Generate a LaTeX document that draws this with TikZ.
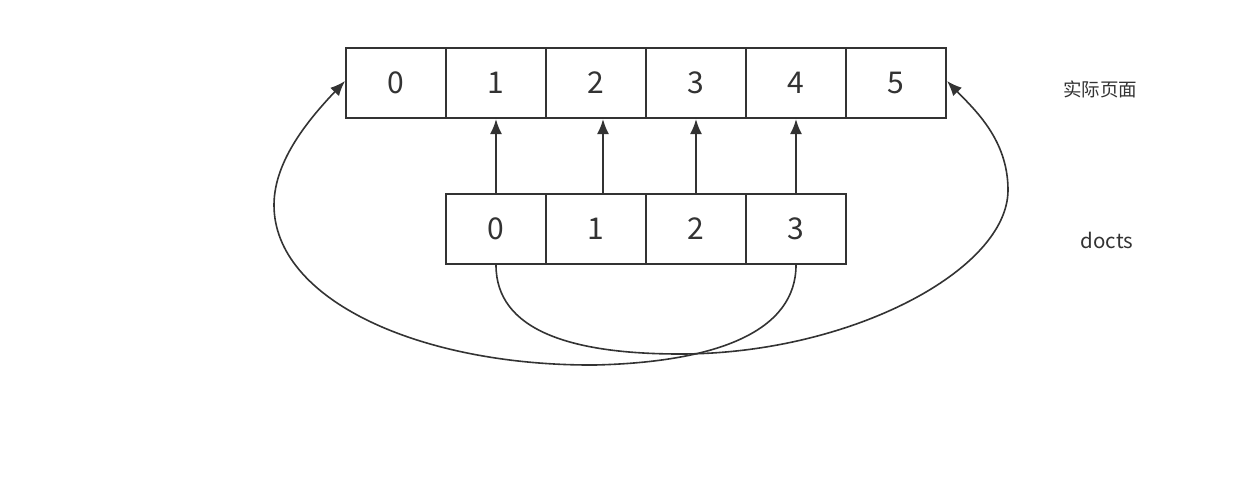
\documentclass[tikz,border=0pt]{standalone}
\usepackage{fontspec}
\setmainfont{Noto Sans CJK SC}
\usetikzlibrary{arrows.meta}
\definecolor{ink}{HTML}{333333}
\tikzset{
  cell/.style={draw=ink, line width=2pt, minimum width=100pt, minimum height=70pt, inner sep=0pt, text=ink, font=\fontsize{30}{34}\selectfont},
  lbl/.style={text=ink, inner sep=0pt, font=\fontsize{18.5}{22}\selectfont},
  lbltwo/.style={text=ink, inner sep=0pt, font=\fontsize{20.5}{24}\selectfont},
  conn/.style={draw=ink, line width=2pt, -{Latex[length=15pt,width=12pt]}},
  curv/.style={draw=ink, line width=1.6pt, -{Latex[length=15pt,width=12pt]}}
}
\begin{document}
\begin{tikzpicture}[x=1pt,y=-1pt]
\useasboundingbox[fill=white] (0,0) rectangle (1247,490);
\foreach \i in {0,...,5} {
  \node[cell] (t\i) at (396+100*\i,83) {\i};
}
\foreach \i in {0,...,3} {
  \node[cell] (b\i) at (496+100*\i,229) {\i};
}
\node[lbl] (real) at (1100,89) {实际页面};
\node[lbltwo] (docts) at (1107,240) {docts};
\draw[conn] (b0.north) -- (t1.south);
\draw[conn] ([xshift=7pt]b1.north) -- ([xshift=7pt]t2.south);
\draw[conn] (b2.north) -- (t3.south);
\draw[conn] (b3.north) -- (t4.south);
\draw[curv] (b0.south) .. controls (496,330) and (570,354) .. (680,354)
  .. controls (850,354) and (1008,270) .. (1008,190)
  .. controls (1008,140) and (975,110) .. ([yshift=2pt]t5.east);
\draw[curv] (b3.south) .. controls (796,330) and (720,362) .. (595,365)
  .. controls (420,366) and (274,300) .. (274,205)
  .. controls (274,160) and (310,118) .. ([yshift=2pt]t0.west);
\end{tikzpicture}
\end{document}
